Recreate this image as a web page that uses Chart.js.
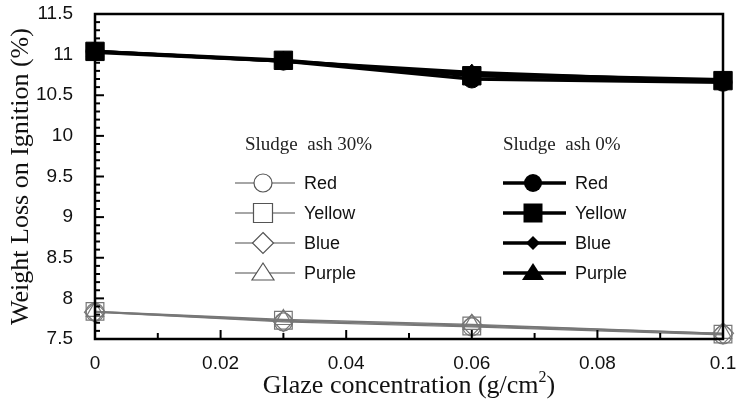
<!DOCTYPE html>
<html>
<head>
<meta charset="utf-8">
<script src="https://cdn.jsdelivr.net/npm/chart.js@4/dist/chart.umd.min.js"></script>
<style>
  html, body { margin: 0; padding: 0; background: #fff; }
  #wrap { width: 737px; height: 402px; }
</style>
</head>
<body>
<div id="wrap"><canvas id="chart"></canvas></div>
<script>
// glaze concentration (g/cm2)
const glaze = [0, 0.03, 0.06, 0.1];

// sludge ash 30%
const ash30Red = [7.83, 7.71, 7.65, 7.55];
const ash30Yellow = [7.84, 7.73, 7.66, 7.56];
const ash30Blue = [7.83, 7.72, 7.67, 7.57];
const ash30Purple = [7.84, 7.74, 7.68, 7.57];

// sludge ash 0%
const ash0Red = [11.04, 10.92, 10.70, 10.66];
const ash0Yellow = [11.04, 10.93, 10.74, 10.68];
const ash0Blue = [11.03, 10.92, 10.78, 10.67];
const ash0Purple = [11.04, 10.92, 10.76, 10.69];

const colorNames = ['Red', 'Yellow', 'Blue', 'Purple'];
const markers = ['circle', 'rect', 'rectRot', 'triangle'];

const SANS = '"Liberation Sans", Arial, sans-serif';
const SERIF = '"Liberation Serif", "Times New Roman", serif';

// chart.js radius per marker (rect side = 1.41 * r)
const openRadius = { circle: 9, rect: 12.5, rectRot: 10.5, triangle: 10 };
const filledRadius = { circle: 9, rect: 13, rectRot: 8, triangle: 10 };

function toPoints(values) {
    return glaze.map((g, i) => ({ x: g, y: values[i] }))
}

function openSeries(label, values, marker) {
    return {
        label: label,
        data: toPoints(values),
        borderColor: '#777',
        borderWidth: 1.3,
        backgroundColor: 'rgba(255,255,255,0)',
        pointStyle: marker,
        pointRadius: openRadius[marker],
        pointBorderColor: '#777',
        pointBorderWidth: 1.2,
        pointBackgroundColor: 'rgba(255,255,255,0)',
        tension: 0,
        clip: false,
        order: 2,
        group: 'ash30'
    }
}

function filledSeries(label, values, marker) {
    return {
        label: label,
        data: toPoints(values),
        borderColor: '#000',
        borderWidth: 3.5,
        backgroundColor: '#000',
        pointStyle: marker,
        pointRadius: filledRadius[marker],
        pointBorderColor: '#000',
        pointBorderWidth: 1,
        pointBackgroundColor: '#000',
        tension: 0,
        clip: false,
        order: marker == 'rect' ? 0 : 1,
        group: 'ash0'
    }
}

const ash30 = [ash30Red, ash30Yellow, ash30Blue, ash30Purple];
const ash0 = [ash0Red, ash0Yellow, ash0Blue, ash0Purple];

const datasets = [];
ash30.forEach((v, i) => datasets.push(openSeries(colorNames[i], v, markers[i])));
ash0.forEach((v, i) => datasets.push(filledSeries(colorNames[i], v, markers[i])));

// marker drawing for the legend
function drawMarker(ctx, style, x, y, r, filled) {
    ctx.beginPath();
    if (style == 'circle') {
        ctx.arc(x, y, r, 0, Math.PI * 2);
    } else if (style == 'rect') {
        ctx.rect(x - r, y - r, r * 2, r * 2);
    } else if (style == 'rectRot') {
        ctx.moveTo(x, y - r);
        ctx.lineTo(x + r, y);
        ctx.lineTo(x, y + r);
        ctx.lineTo(x - r, y);
        ctx.closePath();
    } else if (style == 'triangle') {
        ctx.moveTo(x, y - r);
        ctx.lineTo(x + r * 1.1, y + r * 0.7);
        ctx.lineTo(x - r * 1.1, y + r * 0.7);
        ctx.closePath();
    }
    if (filled) {
        ctx.fillStyle = '#000';
        ctx.fill();
    } else {
        ctx.fillStyle = '#fff';
        ctx.fill();
        ctx.stroke();
    }
}

const frameAndLegend = {
    id: 'frameAndLegend',
    afterDraw(chart) {
        const ctx = chart.ctx;
        const a = chart.chartArea;
        const xs = chart.scales.x;
        const ys = chart.scales.y;
        ctx.save();

        // box
        ctx.strokeStyle = '#000';
        ctx.lineWidth = 2.5;
        ctx.strokeRect(a.left, a.top, a.right - a.left, a.bottom - a.top);

        // inward ticks on y axis
        ctx.lineWidth = 2;
        for (let i = 0; i <= 40; i++) {
            const v = 7.5 + i * 0.1;
            const py = ys.getPixelForValue(v);
            const len = (i % 5 == 0) ? 9 : 5;
            ctx.beginPath();
            ctx.moveTo(a.left, py);
            ctx.lineTo(a.left + len, py);
            ctx.stroke();
        }
        // inward ticks on x axis
        for (let i = 0; i <= 10; i++) {
            const v = i * 0.01;
            const px = xs.getPixelForValue(v);
            const len = (i % 2 == 0) ? 9 : 6;
            ctx.beginPath();
            ctx.moveTo(px, a.bottom);
            ctx.lineTo(px, a.bottom - len);
            ctx.stroke();
        }

        // x title with a real superscript
        const base = 'Glaze concentration (g/cm';
        ctx.fillStyle = '#111';
        ctx.textBaseline = 'alphabetic';
        ctx.textAlign = 'left';
        ctx.font = '26px ' + SERIF;
        const w1 = ctx.measureText(base).width;
        ctx.font = '16px ' + SERIF;
        const w2 = ctx.measureText('2').width;
        ctx.font = '26px ' + SERIF;
        const w3 = ctx.measureText(')').width;
        let tx = (a.left + a.right) / 2 - (w1 + w2 + w3) / 2;
        const ty = 393;
        ctx.fillText(base, tx, ty);
        ctx.font = '16px ' + SERIF;
        ctx.fillText('2', tx + w1, ty - 11);
        ctx.font = '26px ' + SERIF;
        ctx.fillText(')', tx + w1 + w2, ty);

        // legend, two columns
        const cols = [
            { title: 'Sludge  ash 30%', group: 'ash30', titleX: 245, lineX0: 235, lineX1: 295, markX: 263, textX: 304 },
            { title: 'Sludge  ash 0%', group: 'ash0', titleX: 503, lineX0: 503, lineX1: 566, markX: 533, textX: 575 }
        ];
        const rows = [183, 213, 243, 273];
        cols.forEach(col => {
            ctx.fillStyle = '#222';
            ctx.font = '19px ' + SERIF;
            ctx.textBaseline = 'middle';
            ctx.textAlign = 'left';
            ctx.fillText(col.title, col.titleX, 145);

            const sets = chart.data.datasets.filter(d => d.group == col.group);
            sets.forEach((d, i) => {
                const y = rows[i];
                const filled = col.group == 'ash0';
                ctx.strokeStyle = filled ? '#000' : '#888';
                ctx.lineWidth = filled ? 3.5 : 1.3;
                ctx.beginPath();
                ctx.moveTo(col.lineX0, y);
                ctx.lineTo(col.lineX1, y);
                ctx.stroke();
                ctx.lineWidth = 1.2;
                ctx.strokeStyle = filled ? '#000' : '#555';
                let r = 9;
                if (d.pointStyle == 'rect') r = 9.5;
                if (d.pointStyle == 'rectRot') r = filled ? 7 : 10.5;
                if (d.pointStyle == 'triangle') r = 10;
                drawMarker(ctx, d.pointStyle, col.markX, y, r, filled);
                ctx.fillStyle = '#111';
                ctx.font = '18px ' + SANS;
                ctx.fillText(d.label, col.textX, y + 1);
            });
        });
        ctx.restore();
    }
};

new Chart(document.getElementById('chart').getContext('2d'), {
    type: 'line',
    data: { datasets: datasets },
    options: {
        responsive: true,
        maintainAspectRatio: false,
        animation: false,
        layout: { padding: { left: 0, right: 14, top: 12, bottom: 0 } },
        plugins: {
            legend: { display: false },
            tooltip: { enabled: false }
        },
        scales: {
            x: {
                type: 'linear',
                min: 0,
                max: 0.1,
                grid: { display: false },
                border: { display: false },
                ticks: {
                    stepSize: 0.02,
                    color: '#111',
                    padding: 5,
                    font: { family: SANS, size: 19 },
                    maxRotation: 0,
                    callback: v => String(+v.toFixed(2))
                },
                afterFit(scale) {
                    scale.height = 63;
                    scale.paddingLeft = 0;
                    scale.paddingRight = 0;
                }
            },
            y: {
                min: 7.5,
                max: 11.5,
                grid: { display: false },
                border: { display: false },
                ticks: {
                    stepSize: 0.5,
                    color: '#111',
                    padding: 14,
                    font: { family: SANS, size: 19 },
                    callback: v => String(+v.toFixed(1))
                },
                title: {
                    display: true,
                    text: 'Weight Loss on Ignition (%)',
                    color: '#111',
                    font: { family: SERIF, size: 26 },
                    padding: { top: 6, bottom: 0 }
                },
                afterFit(scale) {
                    scale.width = 95;
                    scale.paddingTop = 0;
                    scale.paddingBottom = 0;
                }
            }
        }
    },
    plugins: [frameAndLegend]
});
</script>
</body>
</html>
